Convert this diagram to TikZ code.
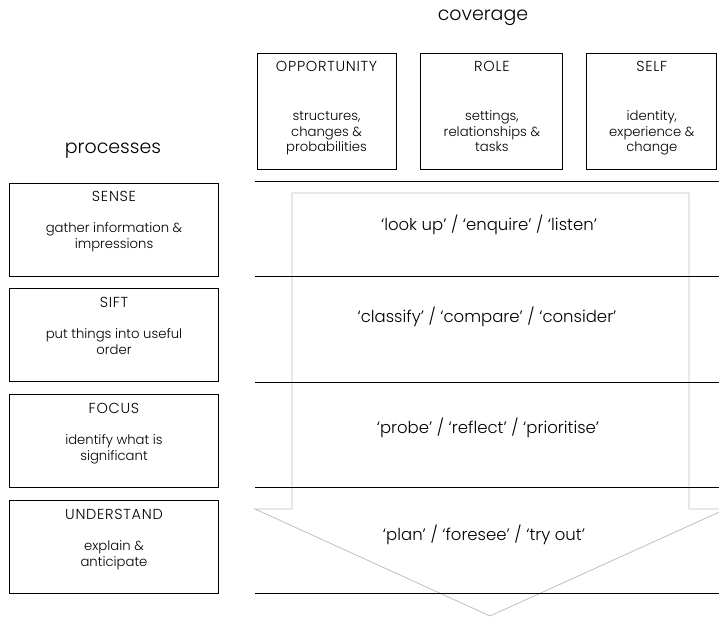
\documentclass[tikz,border=0pt]{standalone}
\usepackage{fontspec}
\IfFontExistsTF{Poppins Light}{\setmainfont{Poppins Light}}{\setmainfont{Poppins}}
\usetikzlibrary{positioning}

% width, height, heading, gap, lines
\newcommand{\cardtext}[5]{\parbox[c][#2][t]{#1}{\centering\rule{0pt}{19pt}{\fontsize{14.5}{15.5}\selectfont\addfontfeature{LetterSpace=5}#3}\\[#4]#5\par}}

\begin{document}
\begin{tikzpicture}[
    x=1pt, y=-1pt,
    node distance=12pt and 24pt,
    card/.style = {rectangle, draw, line width=0.9pt, inner sep=0pt, font=\fontsize{13.2}{15.5}\selectfont},
    phase/.style = {font=\fontsize{16.5}{18}\selectfont},
    heading/.style = {font=\fontsize{19}{22}\selectfont},
    band/.style = {line width=0.8pt},
    flow/.style = {draw=black!25, line width=0.8pt, line join=miter}]

    \useasboundingbox (0,0) rectangle (719,617);

    % headings
    \node[heading] (cov) at (483,18) {coverage};
    \node[heading] (proc) at (113,151) {processes};

    % coverage boxes
    \node[card] (opp) at (326.5,111) {\cardtext{139pt}{116pt}{OPPORTUNITY}{33.5pt}{structures,\\changes \&\\probabilities}};
    \node[card, right=24pt of opp] (role) {\cardtext{142pt}{116pt}{ROLE}{33.5pt}{settings,\\relationships \&\\tasks}};
    \node[card, right=23pt of role] (self) {\cardtext{130pt}{116pt}{SELF}{33.5pt}{identity,\\experience \&\\change}};

    % process boxes
    \node[card] (sense) at (114,229.5) {\cardtext{209pt}{93pt}{SENSE}{15.5pt}{gather information \&\\impressions}};
    \node[card, below=of sense] (sift) {\cardtext{209pt}{93pt}{SIFT}{15.5pt}{put things into useful\\order}};
    \node[card, below=of sift] (focus) {\cardtext{209pt}{93pt}{FOCUS}{15.5pt}{identify what is\\significant}};
    \node[card, below=of focus] (under) {\cardtext{209pt}{93pt}{UNDERSTAND}{15.5pt}{explain \&\\anticipate}};

    % big downward arrow
    \draw[flow] (292,193) -- (689,193) -- (689,509) -- (726,509) -- (490,616)
        -- (255,509) -- (292,509) -- cycle;

    % bands
    \foreach \y in {181,276,382,487,593}
        \draw[band] (255,\y) -- (719,\y);

    % activities
    \node[phase] (look) at (489,225) {`look up' / `enquire' / `listen'};
    \node[phase] (class) at (487,317) {`classify' / `compare' / `consider'};
    \node[phase] (probe) at (488,428) {`probe' / `reflect' / `prioritise'};
    \node[phase] (plan) at (484,535) {`plan' / `foresee' / `try out'};
\end{tikzpicture}
\end{document}
